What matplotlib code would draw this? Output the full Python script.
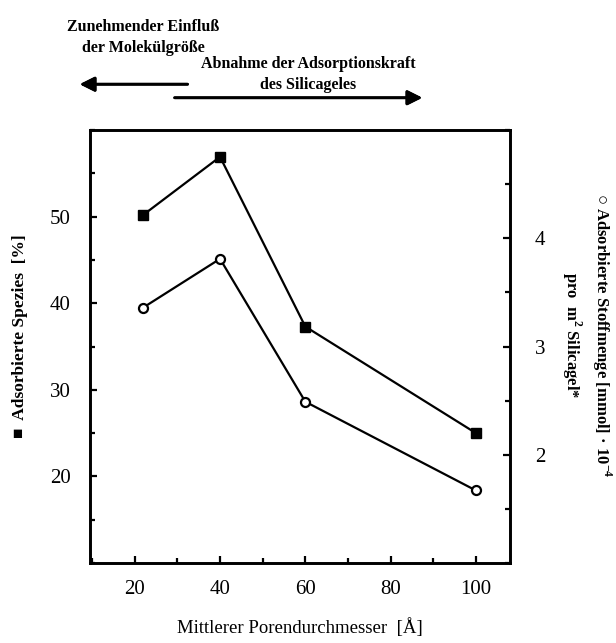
import numpy as np
import matplotlib.pyplot as plt
from matplotlib.ticker import MultipleLocator

plt.rcParams['font.family'] = ['Liberation Serif', 'DejaVu Serif']
plt.rcParams['mathtext.fontset'] = 'custom'
plt.rcParams['mathtext.rm'] = 'Liberation Serif'
plt.rcParams['mathtext.bf'] = 'Liberation Serif:bold'

# pore diameter [A]
pore = [22, 40, 60, 100]
# adsorbed species [%] (filled squares, left axis)
spezies = [50.2, 56.9, 37.3, 25.0]
# adsorbed amount [mmol]*1e-4 per m2 (open circles, right axis)
stoffmenge = [3.36, 3.81, 2.49, 1.67]

fig = plt.figure(figsize=(6.16, 6.43), dpi=100)
ax1 = fig.add_axes([0.146, 0.1244, 0.682, 0.6734])

ax1.plot(pore, spezies, '-s', color='black', lw=1.6, ms=6.5, mfc='black')
ax1.set_xlim(9.5, 108)
ax1.set_ylim(10, 60)
ax1.xaxis.set_minor_locator(MultipleLocator(10))
ax1.yaxis.set_minor_locator(MultipleLocator(5))
ax1.set_xticks([20, 40, 60, 80, 100])
ax1.set_yticks([20, 30, 40, 50])
ax1.tick_params(which='both', direction='in', width=1.6, labelsize=15, top=False)
ax1.tick_params(which='major', length=5)
ax1.tick_params(which='minor', length=3.5)
ax1.tick_params(axis='y', pad=14)
ax1.tick_params(axis='x', pad=12)
for s in ax1.spines.values():
    s.set_linewidth(1.9)

ax2 = ax1.twinx()
ax2.plot(pore, stoffmenge, '-o', color='black', lw=1.6, ms=6.5, mfc='white', mew=1.6)
ax2.set_ylim(1, 5)
ax2.set_yticks([2, 3, 4])
ax2.yaxis.set_minor_locator(MultipleLocator(0.5))
ax2.tick_params(which='both', direction='in', width=1.6, labelsize=15, pad=18)
ax2.tick_params(which='major', length=5)
ax2.tick_params(which='minor', length=3.5)
for s in ax2.spines.values():
    s.set_linewidth(1.9)

ax1.set_xlabel('Mittlerer Porendurchmesser  [Å]', fontsize=13.5, labelpad=14)

fig.text(0.032, 0.477, '■  Adsorbierte Spezies  [%]', rotation=90, fontsize=12.5,
         fontweight='bold', ha='center', va='center')
fig.text(0.952, 0.479, '○ Adsorbierte Stoffmenge [mmol] · 10$^{\\mathbf{-4}}$\npro  m$^{\\mathbf{2}}$ Silicagel*',
         rotation=-90, fontsize=12, fontweight='bold', ha='center', va='center',
         multialignment='center', linespacing=1.4)

# direction notes above the plot
fig.text(0.232, 0.942, 'Zunehmender Einfluß\nder Molekülgröße', fontsize=11.5,
         fontweight='bold', ha='center', va='center', linespacing=1.45)
fig.text(0.500, 0.884, 'Abnahme der Adsorptionskraft\ndes Silicageles', fontsize=11.5,
         fontweight='bold', ha='center', va='center', linespacing=1.45)
fig.add_artist(plt.annotate('', xy=(0.125, 0.869), xytext=(0.309, 0.869),
               xycoords='figure fraction',
               arrowprops=dict(arrowstyle='-|>', color='black', lw=2, mutation_scale=22)))
fig.add_artist(plt.annotate('', xy=(0.690, 0.848), xytext=(0.279, 0.848),
               xycoords='figure fraction',
               arrowprops=dict(arrowstyle='-|>', color='black', lw=2, mutation_scale=22)))

fig.savefig('out.png', dpi=100)
